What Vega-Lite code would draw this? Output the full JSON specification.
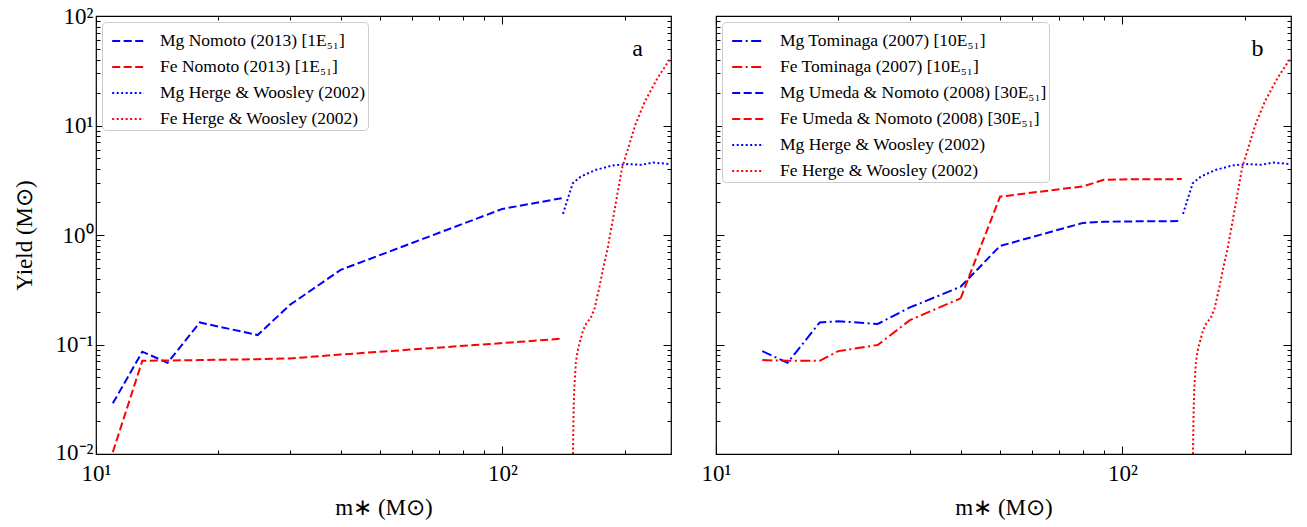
{
  "$schema": "https://vega.github.io/schema/vega-lite/v6.json",
  "padding": {"left": 12, "top": 4, "right": 4, "bottom": 4},
  "background": "#ffffff",
  "config": {
    "font": "Liberation Serif",
    "view": {"stroke": "#000000", "strokeWidth": 1.2},
    "text": {"font": "Liberation Serif"},
    "style": {
      "guide-label": {"font": "Liberation Serif"},
      "guide-title": {"font": "Liberation Serif", "fontWeight": "normal"}
    },
    "axis": {
      "labelFont": "Liberation Serif",
      "labelFontSize": 23,
      "labelColor": "#000000",
      "titleFont": "Liberation Serif",
      "titleFontSize": 23,
      "titleFontWeight": "normal",
      "titleColor": "#000000",
      "tickColor": "#000000",
      "tickWidth": 1,
      "domain": false,
      "grid": false,
      "labelFlush": false,
      "labelOverlap": false
    },
    "legend": {
      "orient": "top-left",
      "offset": 6,
      "padding": 2,
      "strokeColor": "#cccccc",
      "fillColor": "#ffffff",
      "cornerRadius": 4,
      "labelFont": "Liberation Serif",
      "labelFontSize": 17.5,
      "labelColor": "#000000",
      "labelLimit": 600,
      "symbolType": "stroke",
      "symbolSize": 1000,
      "symbolOffset": 7,
      "symbolStrokeWidth": 2,
      "rowPadding": -5.6,
      "labelOffset": 15
    }
  },
  "datasets": {
    "nomoto": [
      {"m": 11, "yield": 0.029, "series": "Mg Nomoto (2013) [1E₅₁]"},
      {"m": 13, "yield": 0.086, "series": "Mg Nomoto (2013) [1E₅₁]"},
      {"m": 15, "yield": 0.068, "series": "Mg Nomoto (2013) [1E₅₁]"},
      {"m": 18, "yield": 0.159, "series": "Mg Nomoto (2013) [1E₅₁]"},
      {"m": 25, "yield": 0.122, "series": "Mg Nomoto (2013) [1E₅₁]"},
      {"m": 30, "yield": 0.23, "series": "Mg Nomoto (2013) [1E₅₁]"},
      {"m": 40, "yield": 0.48, "series": "Mg Nomoto (2013) [1E₅₁]"},
      {"m": 100, "yield": 1.73, "series": "Mg Nomoto (2013) [1E₅₁]"},
      {"m": 140, "yield": 2.17, "series": "Mg Nomoto (2013) [1E₅₁]"},
      {"m": 11, "yield": 0.0104, "series": "Fe Nomoto (2013) [1E₅₁]"},
      {"m": 13, "yield": 0.071, "series": "Fe Nomoto (2013) [1E₅₁]"},
      {"m": 15, "yield": 0.0715, "series": "Fe Nomoto (2013) [1E₅₁]"},
      {"m": 18, "yield": 0.072, "series": "Fe Nomoto (2013) [1E₅₁]"},
      {"m": 25, "yield": 0.0735, "series": "Fe Nomoto (2013) [1E₅₁]"},
      {"m": 30, "yield": 0.0745, "series": "Fe Nomoto (2013) [1E₅₁]"},
      {"m": 40, "yield": 0.081, "series": "Fe Nomoto (2013) [1E₅₁]"},
      {"m": 100, "yield": 0.103, "series": "Fe Nomoto (2013) [1E₅₁]"},
      {"m": 140, "yield": 0.113, "series": "Fe Nomoto (2013) [1E₅₁]"}
    ],
    "tominaga_umeda": [
      {"m": 13, "yield": 0.087, "series": "Mg Tominaga (2007) [10E₅₁]"},
      {"m": 15, "yield": 0.068, "series": "Mg Tominaga (2007) [10E₅₁]"},
      {"m": 18, "yield": 0.159, "series": "Mg Tominaga (2007) [10E₅₁]"},
      {"m": 20, "yield": 0.163, "series": "Mg Tominaga (2007) [10E₅₁]"},
      {"m": 25, "yield": 0.154, "series": "Mg Tominaga (2007) [10E₅₁]"},
      {"m": 30, "yield": 0.218, "series": "Mg Tominaga (2007) [10E₅₁]"},
      {"m": 40, "yield": 0.337, "series": "Mg Tominaga (2007) [10E₅₁]"},
      {"m": 13, "yield": 0.072, "series": "Fe Tominaga (2007) [10E₅₁]"},
      {"m": 15, "yield": 0.071, "series": "Fe Tominaga (2007) [10E₅₁]"},
      {"m": 18, "yield": 0.071, "series": "Fe Tominaga (2007) [10E₅₁]"},
      {"m": 20, "yield": 0.087, "series": "Fe Tominaga (2007) [10E₅₁]"},
      {"m": 25, "yield": 0.099, "series": "Fe Tominaga (2007) [10E₅₁]"},
      {"m": 30, "yield": 0.167, "series": "Fe Tominaga (2007) [10E₅₁]"},
      {"m": 40, "yield": 0.264, "series": "Fe Tominaga (2007) [10E₅₁]"},
      {"m": 40, "yield": 0.337, "series": "Mg Umeda & Nomoto (2008) [30E₅₁]"},
      {"m": 50, "yield": 0.794, "series": "Mg Umeda & Nomoto (2008) [30E₅₁]"},
      {"m": 80, "yield": 1.29, "series": "Mg Umeda & Nomoto (2008) [30E₅₁]"},
      {"m": 90, "yield": 1.32, "series": "Mg Umeda & Nomoto (2008) [30E₅₁]"},
      {"m": 100, "yield": 1.33, "series": "Mg Umeda & Nomoto (2008) [30E₅₁]"},
      {"m": 140, "yield": 1.34, "series": "Mg Umeda & Nomoto (2008) [30E₅₁]"},
      {"m": 40, "yield": 0.264, "series": "Fe Umeda & Nomoto (2008) [30E₅₁]"},
      {"m": 50, "yield": 2.24, "series": "Fe Umeda & Nomoto (2008) [30E₅₁]"},
      {"m": 80, "yield": 2.78, "series": "Fe Umeda & Nomoto (2008) [30E₅₁]"},
      {"m": 90, "yield": 3.19, "series": "Fe Umeda & Nomoto (2008) [30E₅₁]"},
      {"m": 100, "yield": 3.22, "series": "Fe Umeda & Nomoto (2008) [30E₅₁]"},
      {"m": 140, "yield": 3.24, "series": "Fe Umeda & Nomoto (2008) [30E₅₁]"}
    ],
    "heger_woosley": [
      {"m": 141, "yield": 1.56, "series": "Mg Herge & Woosley (2002)"},
      {"m": 145, "yield": 2.17, "series": "Mg Herge & Woosley (2002)"},
      {"m": 149, "yield": 2.97, "series": "Mg Herge & Woosley (2002)"},
      {"m": 156, "yield": 3.42, "series": "Mg Herge & Woosley (2002)"},
      {"m": 170, "yield": 3.94, "series": "Mg Herge & Woosley (2002)"},
      {"m": 187, "yield": 4.32, "series": "Mg Herge & Woosley (2002)"},
      {"m": 204, "yield": 4.44, "series": "Mg Herge & Woosley (2002)"},
      {"m": 220, "yield": 4.38, "series": "Mg Herge & Woosley (2002)"},
      {"m": 235, "yield": 4.59, "series": "Mg Herge & Woosley (2002)"},
      {"m": 258, "yield": 4.44, "series": "Mg Herge & Woosley (2002)"},
      {"m": 149.2, "yield": 0.01, "series": "Fe Herge & Woosley (2002)"},
      {"m": 149.6, "yield": 0.021, "series": "Fe Herge & Woosley (2002)"},
      {"m": 150.3, "yield": 0.0397, "series": "Fe Herge & Woosley (2002)"},
      {"m": 151.7, "yield": 0.0695, "series": "Fe Herge & Woosley (2002)"},
      {"m": 153.6, "yield": 0.092, "series": "Fe Herge & Woosley (2002)"},
      {"m": 158, "yield": 0.135, "series": "Fe Herge & Woosley (2002)"},
      {"m": 161, "yield": 0.156, "series": "Fe Herge & Woosley (2002)"},
      {"m": 165, "yield": 0.175, "series": "Fe Herge & Woosley (2002)"},
      {"m": 168.6, "yield": 0.213, "series": "Fe Herge & Woosley (2002)"},
      {"m": 173, "yield": 0.325, "series": "Fe Herge & Woosley (2002)"},
      {"m": 177, "yield": 0.495, "series": "Fe Herge & Woosley (2002)"},
      {"m": 181.6, "yield": 0.755, "series": "Fe Herge & Woosley (2002)"},
      {"m": 197, "yield": 4.07, "series": "Fe Herge & Woosley (2002)"},
      {"m": 212.5, "yield": 10.2, "series": "Fe Herge & Woosley (2002)"},
      {"m": 224.3, "yield": 16.6, "series": "Fe Herge & Woosley (2002)"},
      {"m": 241, "yield": 27.2, "series": "Fe Herge & Woosley (2002)"},
      {"m": 258, "yield": 40, "series": "Fe Herge & Woosley (2002)"}
    ]
  },
  "hconcat": [
    {
      "width": 575,
      "height": 438,
      "layer": [
        {
          "data": {"name": "nomoto"},
          "mark": {"type": "line", "strokeWidth": 2, "clip": true},
          "encoding": {
            "x": {
              "field": "m", "type": "quantitative",
              "scale": {"type": "log", "domain": [10, 260], "nice": false},
              "axis": {
                "orient": "bottom",
                "values": [10, 20, 30, 40, 50, 60, 70, 80, 90, 100, 200],
                "labelExpr": "datum.value == 10 ? '10¹' : datum.value == 100 ? '10²' : ''",
                "labelFont": "Liberation Serif",
                "titleFont": "Liberation Serif",
                "titleFontWeight": 400,
                "tickSize": {"condition": {"test": "datum.value == 10 || datum.value == 100", "value": -8}, "value": -4},
                "labelPadding": 16,
                "title": "m∗ (M⊙)",
                "titlePadding": 7
              }
            },
            "y": {
              "field": "yield", "type": "quantitative",
              "scale": {"type": "log", "domain": [0.01, 100], "nice": false},
              "axis": {
                "orient": "left",
                "values": [0.01, 0.02, 0.03, 0.04, 0.05, 0.06, 0.07, 0.08, 0.09, 0.1, 0.2, 0.3, 0.4, 0.5, 0.6, 0.7, 0.8, 0.9, 1, 2, 3, 4, 5, 6, 7, 8, 9, 10, 20, 30, 40, 50, 60, 70, 80, 90, 100],
                "labelExpr": "datum.value == 0.01 ? '10⁻²' : datum.value == 0.1 ? '10⁻¹' : datum.value == 1 ? '10⁰' : datum.value == 10 ? '10¹' : datum.value == 100 ? '10²' : ''",
                "labelFont": "Liberation Serif",
                "titleFont": "Liberation Serif",
                "titleFontWeight": 400,
                "labelOffset": {"condition": {"test": "datum.value == 0.01", "value": -2}, "value": 0},
                "tickSize": {"condition": {"test": "datum.value == 0.01 || datum.value == 0.1 || datum.value == 1 || datum.value == 10 || datum.value == 100", "value": -8}, "value": -4},
                "labelPadding": 11,
                "title": "Yield (M⊙)",
                "titlePadding": 19
              }
            },
            "color": {
              "field": "series", "type": "nominal",
              "scale": {
                "domain": ["Mg Nomoto (2013) [1E₅₁]", "Fe Nomoto (2013) [1E₅₁]", "Mg Herge & Woosley (2002)", "Fe Herge & Woosley (2002)"],
                "range": ["#0000ff", "#ff0000", "#0000ff", "#ff0000"]
              },
              "legend": {"title": null}
            },
            "strokeDash": {
              "field": "series", "type": "nominal",
              "scale": {
                "domain": ["Mg Nomoto (2013) [1E₅₁]", "Fe Nomoto (2013) [1E₅₁]", "Mg Herge & Woosley (2002)", "Fe Herge & Woosley (2002)"],
                "range": [[8, 3.5], [8, 3.5], [2, 2.5], [2, 2.5]]
              },
              "legend": {"title": null}
            }
          }
        },
        {
          "data": {"name": "heger_woosley"},
          "mark": {"type": "line", "strokeWidth": 2, "clip": true},
          "encoding": {
            "x": {"field": "m", "type": "quantitative", "scale": {"type": "log", "domain": [10, 260], "nice": false}, "axis": null},
            "y": {"field": "yield", "type": "quantitative", "scale": {"type": "log", "domain": [0.01, 100], "nice": false}, "axis": null},
            "color": {"field": "series", "type": "nominal", "legend": {"title": null}},
            "strokeDash": {"field": "series", "type": "nominal", "legend": {"title": null}}
          }
        },
        {
          "data": {"values": [{"m": 215, "yield": 50, "panel": "a"}]},
          "mark": {"type": "text", "fontSize": 24, "color": "#000000", "align": "center", "baseline": "middle"},
          "encoding": {
            "x": {
              "field": "m", "type": "quantitative",
              "scale": {"type": "log", "domain": [10, 260], "nice": false},
              "axis": {
                "orient": "top",
                "values": [10, 20, 30, 40, 50, 60, 70, 80, 90, 100, 200],
                "labels": false,
                "tickSize": {"condition": {"test": "datum.value == 10 || datum.value == 100", "value": -8}, "value": -4},
                "title": null
              }
            },
            "y": {
              "field": "yield", "type": "quantitative",
              "scale": {"type": "log", "domain": [0.01, 100], "nice": false},
              "axis": {
                "orient": "right",
                "values": [0.01, 0.02, 0.03, 0.04, 0.05, 0.06, 0.07, 0.08, 0.09, 0.1, 0.2, 0.3, 0.4, 0.5, 0.6, 0.7, 0.8, 0.9, 1, 2, 3, 4, 5, 6, 7, 8, 9, 10, 20, 30, 40, 50, 60, 70, 80, 90, 100],
                "labels": false,
                "tickSize": {"condition": {"test": "datum.value == 0.01 || datum.value == 0.1 || datum.value == 1 || datum.value == 10 || datum.value == 100", "value": -8}, "value": -4},
                "title": null
              }
            },
            "text": {"field": "panel", "type": "nominal"}
          }
        }
      ],
      "resolve": {"axis": {"x": "independent", "y": "independent"}}
    },
    {
      "width": 575,
      "height": 438,
      "layer": [
        {
          "data": {"name": "tominaga_umeda"},
          "mark": {"type": "line", "strokeWidth": 2, "clip": true},
          "encoding": {
            "x": {
              "field": "m", "type": "quantitative",
              "scale": {"type": "log", "domain": [10, 260], "nice": false},
              "axis": {
                "orient": "bottom",
                "values": [10, 20, 30, 40, 50, 60, 70, 80, 90, 100, 200],
                "labelExpr": "datum.value == 10 ? '10¹' : datum.value == 100 ? '10²' : ''",
                "labelFont": "Liberation Serif",
                "titleFont": "Liberation Serif",
                "titleFontWeight": 400,
                "tickSize": {"condition": {"test": "datum.value == 10 || datum.value == 100", "value": -8}, "value": -4},
                "labelPadding": 16,
                "title": "m∗ (M⊙)",
                "titlePadding": 7
              }
            },
            "y": {
              "field": "yield", "type": "quantitative",
              "scale": {"type": "log", "domain": [0.01, 100], "nice": false},
              "axis": {
                "orient": "left",
                "values": [0.01, 0.02, 0.03, 0.04, 0.05, 0.06, 0.07, 0.08, 0.09, 0.1, 0.2, 0.3, 0.4, 0.5, 0.6, 0.7, 0.8, 0.9, 1, 2, 3, 4, 5, 6, 7, 8, 9, 10, 20, 30, 40, 50, 60, 70, 80, 90, 100],
                "labels": false,
                "tickSize": {"condition": {"test": "datum.value == 0.01 || datum.value == 0.1 || datum.value == 1 || datum.value == 10 || datum.value == 100", "value": -8}, "value": -4},
                "title": null
              }
            },
            "color": {
              "field": "series", "type": "nominal",
              "scale": {
                "domain": ["Mg Tominaga (2007) [10E₅₁]", "Fe Tominaga (2007) [10E₅₁]", "Mg Umeda & Nomoto (2008) [30E₅₁]", "Fe Umeda & Nomoto (2008) [30E₅₁]", "Mg Herge & Woosley (2002)", "Fe Herge & Woosley (2002)"],
                "range": ["#0000ff", "#ff0000", "#0000ff", "#ff0000", "#0000ff", "#ff0000"]
              },
              "legend": {"title": null}
            },
            "strokeDash": {
              "field": "series", "type": "nominal",
              "scale": {
                "domain": ["Mg Tominaga (2007) [10E₅₁]", "Fe Tominaga (2007) [10E₅₁]", "Mg Umeda & Nomoto (2008) [30E₅₁]", "Fe Umeda & Nomoto (2008) [30E₅₁]", "Mg Herge & Woosley (2002)", "Fe Herge & Woosley (2002)"],
                "range": [[10, 3.5, 2, 3.5], [10, 3.5, 2, 3.5], [8, 3.5], [8, 3.5], [2, 2.5], [2, 2.5]]
              },
              "legend": {"title": null}
            }
          }
        },
        {
          "data": {"name": "heger_woosley"},
          "mark": {"type": "line", "strokeWidth": 2, "clip": true},
          "encoding": {
            "x": {"field": "m", "type": "quantitative", "scale": {"type": "log", "domain": [10, 260], "nice": false}, "axis": null},
            "y": {"field": "yield", "type": "quantitative", "scale": {"type": "log", "domain": [0.01, 100], "nice": false}, "axis": null},
            "color": {"field": "series", "type": "nominal", "legend": {"title": null}},
            "strokeDash": {"field": "series", "type": "nominal", "legend": {"title": null}}
          }
        },
        {
          "data": {"values": [{"m": 215, "yield": 50, "panel": "b"}]},
          "mark": {"type": "text", "fontSize": 24, "color": "#000000", "align": "center", "baseline": "middle"},
          "encoding": {
            "x": {
              "field": "m", "type": "quantitative",
              "scale": {"type": "log", "domain": [10, 260], "nice": false},
              "axis": {
                "orient": "top",
                "values": [10, 20, 30, 40, 50, 60, 70, 80, 90, 100, 200],
                "labels": false,
                "tickSize": {"condition": {"test": "datum.value == 10 || datum.value == 100", "value": -8}, "value": -4},
                "title": null
              }
            },
            "y": {
              "field": "yield", "type": "quantitative",
              "scale": {"type": "log", "domain": [0.01, 100], "nice": false},
              "axis": {
                "orient": "right",
                "values": [0.01, 0.02, 0.03, 0.04, 0.05, 0.06, 0.07, 0.08, 0.09, 0.1, 0.2, 0.3, 0.4, 0.5, 0.6, 0.7, 0.8, 0.9, 1, 2, 3, 4, 5, 6, 7, 8, 9, 10, 20, 30, 40, 50, 60, 70, 80, 90, 100],
                "labels": false,
                "tickSize": {"condition": {"test": "datum.value == 0.01 || datum.value == 0.1 || datum.value == 1 || datum.value == 10 || datum.value == 100", "value": -8}, "value": -4},
                "title": null
              }
            },
            "text": {"field": "panel", "type": "nominal"}
          }
        }
      ],
      "resolve": {"axis": {"x": "independent", "y": "independent"}}
    }
  ],
  "spacing": 45,
  "bounds": "flush",
  "resolve": {
    "scale": {"x": "independent", "y": "independent", "color": "independent", "strokeDash": "independent"},
    "legend": {"color": "independent", "strokeDash": "independent"}
  }
}
